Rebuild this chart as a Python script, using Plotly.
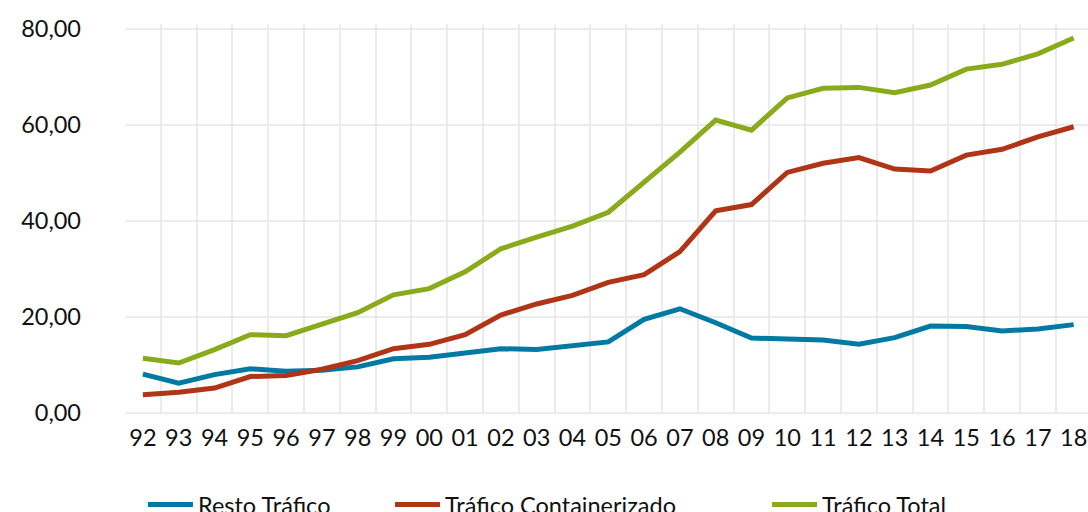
import plotly.graph_objects as go

years = ["92", "93", "94", "95", "96", "97", "98", "99", "00", "01", "02", "03", "04",
         "05", "06", "07", "08", "09", "10", "11", "12", "13", "14", "15", "16", "17", "18"]
resto = [8.1, 6.2, 8.0, 9.2, 8.7, 8.9, 9.6, 11.3, 11.6, 12.6, 13.4, 13.2, 14.0,
         14.8, 19.5, 21.7, 18.8, 15.6, 15.4, 15.2, 14.3, 15.7, 18.1, 18.0, 17.1, 17.5, 18.4]
contenedor = [3.8, 4.3, 5.2, 7.6, 7.8, 9.1, 10.9, 13.4, 14.3, 16.3, 20.4, 22.7, 24.5,
              27.2, 28.8, 33.6, 42.1, 43.4, 50.1, 52.0, 53.2, 50.8, 50.4, 53.7, 54.9, 57.5, 59.6]
total = [11.4, 10.4, 13.2, 16.3, 16.1, 18.6, 20.9, 24.6, 25.9, 29.4, 34.2, 36.6, 38.9,
         41.8, 47.9, 54.3, 61.0, 58.9, 65.6, 67.6, 67.8, 66.7, 68.3, 71.6, 72.6, 74.8, 78.1]
yticks = [0, 20, 40, 60, 80]
yticktext = ["0,00", "20,00", "40,00", "60,00", "80,00"]

series = [
    ("Resto Tráfico", resto, "#007aa3", "legend", 0.1314),
    ("Tráfico Containerizado", contenedor, "#b03416", "legend2", 0.3585),
    ("Tráfico Total", total, "#8aaa1c", "legend3", 0.705),
]

font = dict(family="Lato, 'Open Sans', sans-serif", size=23.5, color="#111111", weight=400)

fig = go.Figure()
for name, vals, color, leg, _ in series:
    fig.add_trace(go.Scatter(x=years, y=vals, name=name, mode="lines",
                             line=dict(color=color, width=5), legend=leg))

layout_legends = {}
for name, vals, color, leg, xpos in series:
    layout_legends[leg] = dict(orientation="h", x=xpos, xanchor="left", xref="container",
                               y=0.014, yanchor="middle", yref="container",
                               font=font, bgcolor="rgba(0,0,0,0)",
                               itemwidth=45, traceorder="normal")

fig.update_layout(
    width=1088, height=512,
    margin=dict(l=125, r=0, t=23.5, b=99),
    paper_bgcolor="white", plot_bgcolor="white",
    font=font,
    showlegend=True,
    xaxis=dict(type="category", range=[-0.5, 26.4], tickson="boundaries",
               showgrid=True, gridcolor="#ebebeb", gridwidth=2,
               showline=False, zeroline=False, ticks="", tickfont=font,
               ticklabelstandoff=8, automargin=False),
    yaxis=dict(range=[0, 81], tickvals=yticks, ticktext=yticktext,
               showgrid=True, gridcolor="#ebebeb", gridwidth=2,
               zeroline=True, zerolinecolor="#ebebeb", zerolinewidth=2,
               showline=False, ticks="", tickfont=font, ticklabelstandoff=43,
               automargin=False),
    **layout_legends,
)

fig.write_html("out.html", config={"displayModeBar": False},
               post_script="document.body.style.margin='0';document.body.style.overflow='hidden';")
